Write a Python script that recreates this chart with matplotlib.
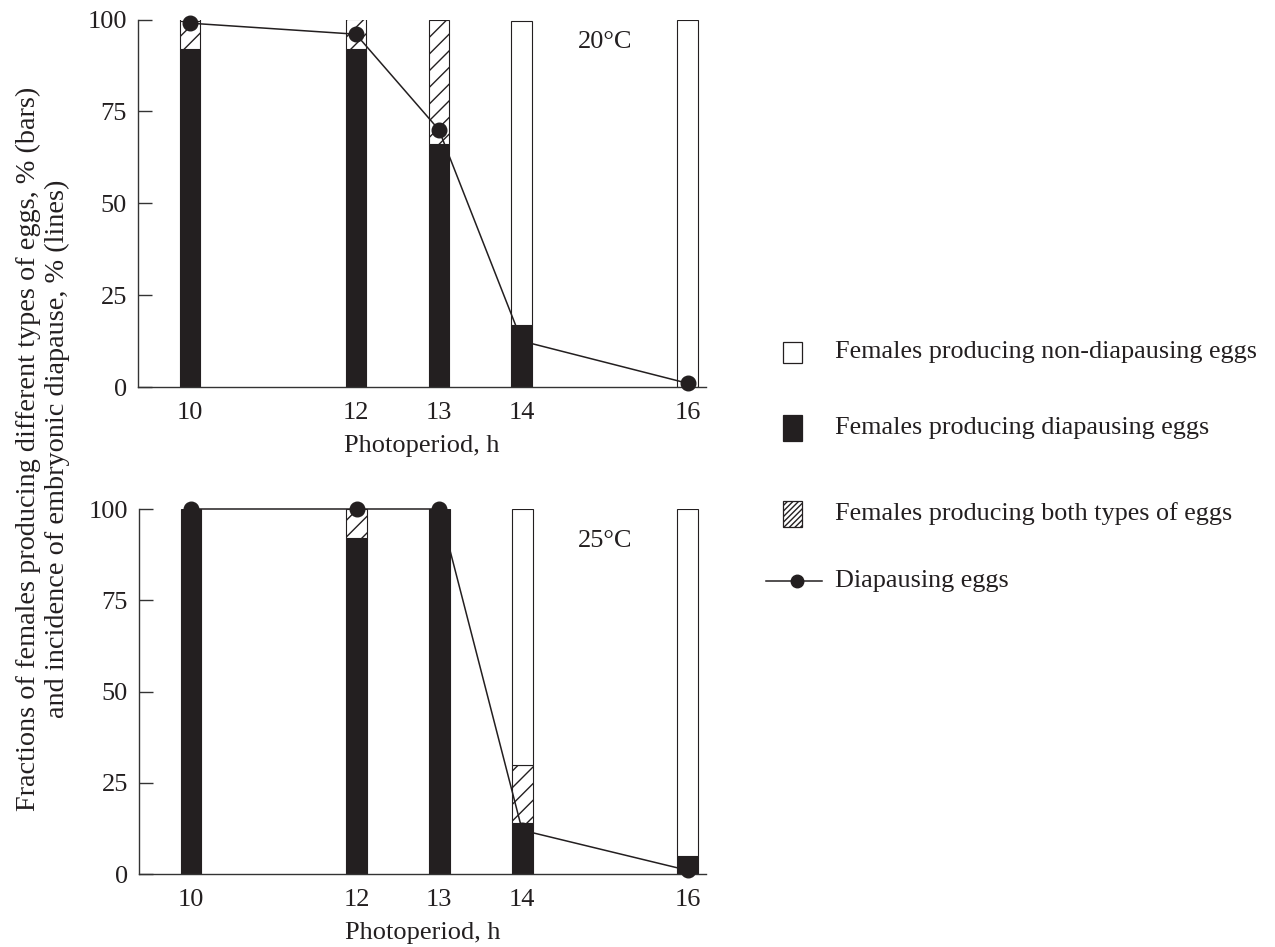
import matplotlib
matplotlib.use("Agg")
import matplotlib.pyplot as plt
from matplotlib.patches import Rectangle
from matplotlib.lines import Line2D

plt.rcParams["font.family"] = ["Liberation Serif", "DejaVu Serif"]
plt.rcParams["hatch.linewidth"] = 1.0
plt.rcParams["hatch.color"] = "#231f20"

# Photoperiod (h) and fractions of females (%) by egg type, plus diapause incidence (%)
photoperiod = [10, 12, 13, 14, 16]
xtick_labels = ["10", "12", "13", "14", "16"]

t20_diapausing = [92, 92, 66, 17, 0]
t20_both = [7.5, 8, 34, 0, 0]
t20_nondiapausing = [0.5, 0, 0, 82.5, 100]
t20_diapause_eggs = [99, 96, 70, 12.5, 1]

t25_diapausing = [100, 92, 100, 14, 5]
t25_both = [0, 8, 0, 16, 0]
t25_nondiapausing = [0, 0, 0, 70, 95]
t25_diapause_eggs = [100, 100, 100, 12, 1]

INK = "#231f20"
FS = 19
W, H = 1275, 947
BAR_W = 0.25

fig = plt.figure(figsize=(W / 100, H / 100), dpi=100)


def panel(rect, diap, both, nondiap, line, label, label_y):
    ax = fig.add_axes(rect)
    bottoms_non = [d + b for d, b in zip(diap, both)]
    groups = [
        ax.bar(photoperiod, diap, BAR_W, color=INK, edgecolor=INK, linewidth=0.8, zorder=2),
        ax.bar(photoperiod, both, BAR_W, bottom=diap, color="white",
               edgecolor=INK, hatch="//", linewidth=0.8, zorder=2),
        ax.bar(photoperiod, nondiap, BAR_W, bottom=bottoms_non, color="white",
               edgecolor=INK, linewidth=0.8, zorder=2),
    ]
    for g in groups:
        for p in g.patches:
            if p.get_height() == 0:
                p.set_visible(False)
    ax.plot(photoperiod, line, color=INK, lw=1.1, marker="o", ms=10.5,
            zorder=4, clip_on=False)

    ax.set_xlim(9.373, 16.22)
    ax.set_ylim(0, 100)
    ax.spines["top"].set_visible(False)
    ax.spines["right"].set_visible(False)
    for s in ("left", "bottom"):
        ax.spines[s].set_linewidth(1.0)
        ax.spines[s].set_color("#333333")
    ax.set_yticks([0, 25, 50, 75, 100])
    ax.set_xticks(photoperiod)
    ax.set_xticklabels(xtick_labels)
    ax.tick_params(axis="y", direction="in", length=10, width=1.0,
                   pad=8, labelsize=FS, colors="#333333", labelcolor=INK)
    ax.tick_params(axis="x", length=0, pad=11, labelsize=FS, labelcolor=INK)
    ax.set_xlabel("Photoperiod, h", fontsize=FS, color=INK, labelpad=8)
    ax.text(15.0, label_y, label, fontsize=FS, color=INK, ha="center", va="center")
    return ax


panel([138 / W, 1 - 387 / H, (706 - 138) / W, (387 - 19.5) / H],
      t20_diapausing, t20_both, t20_nondiapausing, t20_diapause_eggs, "20°C", 94)
panel([139 / W, 1 - 874 / H, (706 - 139) / W, (874 - 509) / H],
      t25_diapausing, t25_both, t25_nondiapausing, t25_diapause_eggs, "25°C", 91.2)

fig.text(0.0335, 1 - 449 / H,
         "Fractions of females producing different types of eggs, % (bars)\n"
         "and incidence of embryonic diapause, % (lines)",
         rotation=90, ha="center", va="center", multialignment="center",
         fontsize=20.3, color=INK, linespacing=1.22)

# Legend drawn in figure pixel coordinates
lg = fig.add_axes([0, 0, 1, 1], zorder=5)
lg.set_xlim(0, W)
lg.set_ylim(H, 0)
lg.axis("off")
lg.patch.set_alpha(0)

lg.add_patch(Rectangle((783, 342), 19, 21, facecolor="white", edgecolor=INK, lw=0.9))
lg.add_patch(Rectangle((783, 415), 19, 26, facecolor=INK, edgecolor=INK, lw=0.9))
lg.add_patch(Rectangle((783, 501), 19, 26, facecolor="white", edgecolor=INK,
                       hatch="//////", lw=0.9))
lg.add_line(Line2D([766, 822], [581, 581], color=INK, lw=1.1))
lg.add_line(Line2D([797], [581], color=INK, marker="o", ms=9, lw=0))

legend_labels = [
    (352, "Females producing non-diapausing eggs"),
    (428, "Females producing diapausing eggs"),
    (514, "Females producing both types of eggs"),
    (581, "Diapausing eggs"),
]
for y, txt in legend_labels:
    lg.text(835, y, txt, fontsize=18.8, color=INK, ha="left", va="center")

fig.savefig("out.png", dpi=100, facecolor="white")
